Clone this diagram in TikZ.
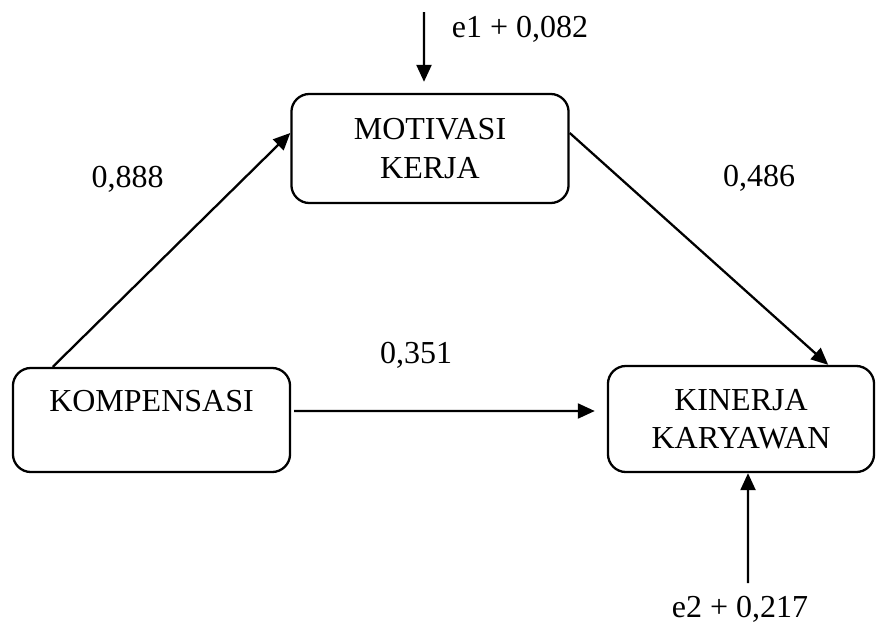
\documentclass[tikz,border=0pt]{standalone}
\usepackage{fontspec}
\setmainfont{Liberation Serif}
\usetikzlibrary{arrows.meta, positioning}
\tikzset{
    base/.style={draw=black, line width=0.65pt, font=\fontsize{9.1}{10.9}\selectfont, align=center, inner sep=0pt},
    block/.style={base, rectangle, rounded corners=0.18cm, fill=white},
    value/.style={font=\fontsize{9.1}{10.9}\selectfont, inner sep=0pt, anchor=base},
    line/.style={draw=black, line width=0.65pt, -{Triangle[length=0.17cm, width=0.15cm]}}
}

\begin{document}
\begin{tikzpicture}[x=0.01cm, y=-0.01cm]
    \useasboundingbox (0,0) rectangle (876,630);

    \node [block, minimum width=2.77cm, minimum height=1.09cm] (Motivasi) at (430,148.5) {MOTIVASI\\KERJA};
    \node [block, minimum width=2.77cm, minimum height=1.04cm] (Kompensasi) at (151.5,420) {KOMPENSASI\\\mbox{}};
    \node [block, minimum width=2.66cm, minimum height=1.06cm] (Kinerja) at (741,419) {KINERJA\\KARYAWAN};

    \coordinate (E1) at (424,12);
    \coordinate (E2) at (748,583);

    \node [value] (E1val) at (520,37) {e1 + 0,082};
    \node [value] (E2val) at (740,617) {e2 + 0,217};
    \node [value] (KMval) at (127.5,187) {0,888};
    \node [value] (MKval) at (759,186) {0,486};
    \node [value] (KKval) at (416,363) {0,351};

    \draw [line] (E1) -- ([xshift=-0.06cm, yshift=0.11cm]Motivasi.north);
    \draw [line] (E2) -- ([xshift=0.07cm]Kinerja.south);
    \draw [line] ([xshift=0.41cm]Kompensasi.north west) -- ([yshift=0.155cm]Motivasi.west);
    \draw [line] ([yshift=0.155cm]Motivasi.east) -- ([xshift=-0.47cm]Kinerja.north east);
    \draw [line] ([xshift=0.03cm, yshift=0.09cm]Kompensasi.east) -- ([xshift=-0.12cm, yshift=0.08cm]Kinerja.west);
\end{tikzpicture}
\end{document}
